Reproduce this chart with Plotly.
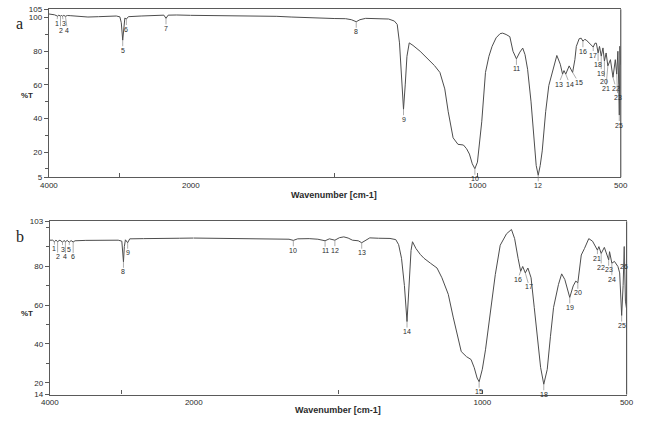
import numpy as np
import plotly.graph_objects as go

W, H = 656, 426

# ---------------- data: spectrum a ----------------
A_WN = [4000, 3960, 3920, 3877, 3860, 3836, 3822, 3808, 3790, 3767, 3740, 3700, 3600, 3450, 3300, 3150,
        3050, 3000, 2980, 2960, 2945, 2930, 2908, 2880, 2700, 2500, 2380, 2350, 2320, 2200,
        2000, 1900, 1800, 1700, 1650, 1600, 1550, 1500, 1460, 1440, 1423, 1410, 1390, 1350, 1310,
        1290, 1280, 1272, 1265, 1258, 1252, 1246, 1238, 1225, 1200, 1175, 1150, 1131, 1114, 1102,
        1085, 1068, 1049, 1038, 1028, 1018, 1009, 1000, 994, 985, 972, 960, 949, 935, 921, 912,
        900, 887, 876, 864, 852, 842, 834, 825, 813, 802, 795, 788, 781, 774, 762, 751, 734, 723,
        711, 703, 698, 692, 680, 668, 660, 655, 645, 638, 632, 626, 621, 610, 601, 596, 590, 585,
        579, 574, 568, 562, 557, 551, 545, 536, 527, 519, 514, 510, 507, 505, 503, 500]
A_T = [102.2, 102.0, 101.7, 100.9, 101.5, 100.9, 101.5, 100.8, 101.4, 100.8, 101.3, 101.2, 100.8, 100.4, 100.6, 101.0,
       101.0, 100.5, 97.0, 86.6, 96.0, 99.8, 99.2, 100.6, 101.0, 101.4, 101.5, 99.6, 101.5, 101.6,
       101.4, 101.2, 101.2, 100.8, 100.4, 100.0, 99.6, 99.5, 99.4, 98.8, 97.6, 98.8, 99.6, 99.5, 99.2,
       98.0, 96.0, 85.0, 66.0, 45.5, 60.0, 77.0, 85.0, 83.5, 80.0, 76.0, 71.5, 67.4, 57.6, 44.0,
       28.5, 24.6, 24.2, 22.0, 18.8, 13.0, 10.1, 14.0, 22.7, 38.0, 67.4, 77.0, 82.9, 88.0, 90.5, 90.8,
       90.0, 88.7, 80.0, 75.5, 79.5, 81.9, 78.0, 69.3, 49.9, 24.8, 12.0, 6.2, 12.0, 20.7, 44.0, 59.6, 71.3, 77.5,
       72.3, 66.4, 68.5, 66.4, 71.3, 67.4, 75.0, 82.9, 87.5, 87.8, 86.0, 87.0, 86.8, 85.0, 83.9, 82.5, 84.8, 84.8,
       79.0, 82.9, 77.1, 82.0, 74.2, 79.0, 71.3, 75.0, 64.5, 75.0, 66.4, 80.0, 60.0, 42.0, 83.0, 72.0]
A_LABELS = ["1", "2", "3", "4", "5", "6", "7", "8", "9", "10", "11", "12", "13", "14", "15",
            "16", "17", "18", "19", "20", "21", "22", "23", "25"]
A_LABEL_WN = [3877, 3836, 3808, 3767, 2960, 2908, 2350, 1423, 1258, 1009, 864, 788, 703, 692, 668,
              632, 596, 579, 568, 557, 545, 527, 514, 505]

# ---------------- data: spectrum b ----------------
B_WN = [4000, 3960, 3937, 3915, 3892, 3860, 3824, 3800, 3784, 3760, 3730, 3705, 3676, 3650, 3500, 3300,
        3050, 3000, 2985, 2977, 2965, 2950, 2919, 2890, 2700, 2500, 2400, 2300, 2200,
        2000, 1900, 1800, 1700, 1670, 1655, 1640, 1600, 1570, 1545, 1530, 1511, 1495, 1480, 1465,
        1450, 1430, 1418, 1405, 1390, 1360, 1320, 1300, 1290, 1280, 1270, 1261, 1253, 1247, 1242,
        1230, 1215, 1202, 1180, 1157, 1140, 1118, 1101, 1084, 1073, 1055, 1039, 1028, 1018, 1011,
        1000, 989, 972, 955, 938, 916, 899, 888, 876, 867, 860, 851, 842, 831, 820, 809, 798, 787,
        775, 764, 753, 736, 725, 714, 697, 685, 676, 669, 665, 657, 646, 631, 618, 601, 596, 588,
        577, 567, 562, 559, 551, 542, 530, 524, 517, 512, 508, 504, 500]
B_T = [93.3, 93.3, 92.5, 93.3, 92.6, 93.3, 92.3, 93.2, 92.4, 93.2, 92.3, 93.1, 92.4, 93.0, 93.2, 93.3,
       93.3, 92.8, 88.0, 82.2, 90.0, 93.5, 92.0, 94.0, 94.1, 94.3, 94.3, 94.4, 94.3,
       94.4, 94.3, 94.2, 94.0, 93.8, 93.2, 94.0, 94.1, 93.8, 93.0, 94.0, 93.3, 94.6, 95.0, 94.4,
       93.3, 93.0, 92.0, 93.0, 94.5, 94.3, 94.2, 93.6, 91.0, 84.0, 70.0, 51.5, 72.0, 88.0, 92.5,
       89.0, 86.0, 84.0, 81.5, 79.0, 74.0, 65.5, 53.8, 42.0, 36.1, 33.5, 32.0, 27.8, 22.5, 20.6,
       27.0, 37.0, 57.2, 75.6, 90.7, 96.6, 98.8, 94.1, 84.0, 77.3, 79.8, 76.5, 79.0, 74.0, 58.8, 42.0, 28.0, 19.3,
       26.9, 43.7, 58.8, 70.6, 76.0, 73.1, 63.9, 69.8, 72.3, 71.4, 76.0, 85.7, 89.0, 94.1, 92.8, 88.2, 90.0, 86.5,
       89.6, 84.9, 83.2, 87.4, 81.5, 82.4, 79.8, 76.5, 54.6, 70.0, 90.0, 62.0, 58.0]
B_LABELS = ["1", "2", "3", "4", "5", "6", "8", "9", "10", "11", "12", "13", "14", "15", "16", "17",
            "18", "19", "20", "21", "22", "23", "24", "25", "26"]
B_LABEL_WN = [3937, 3892, 3824, 3784, 3730, 3676, 2977, 2919, 1655, 1545, 1511, 1418, 1261, 1011, 867, 851,
              787, 697, 669, 601, 588, 562, 551, 517, 508]

# tick labels
A_YTICKS = [5, 20, 40, 60, 80, 100, 105]
B_YTICKS = [14, 20, 40, 60, 80, 103]
HI_XTICKS = [4000, 3000, 2000]
HI_XTEXT = ["4000", "", "2000"]
LO_XTICKS = [1500, 1000, 500]
LO_XTEXT = ["", "1000", "500"]

# ---------------- styling / placement (pixels) ----------------
def px(x):
    return x / W

def py(y):
    return 1 - y / H

LINE = "#4d4d4d"
FRAME = "#5a5a5a"
TXT = "#2a2a2a"
FONT = "Liberation Sans"

# label offsets (ax, ay) in pixels, for crowded peak labels
A_OFFS = {"1": (-1, 7), "2": (0, 14), "3": (1, 7), "4": (2, 14),
          "13": (-4, 10), "14": (4, 10), "15": (6, 10),
          "17": (0, 8), "18": (0, 12), "19": (0, 17), "20": (0, 20), "21": (-2, 23),
          "22": (3, 11), "23": (1, 23), "25": (0, 10)}
B_OFFS = {"1": (0, 7), "2": (0, 15), "3": (0, 7), "4": (0, 15), "5": (0, 7), "6": (0, 15),
          "16": (-3, 8), "17": (4, 14),
          "21": (0, 8), "22": (0, 14), "23": (0, 10), "24": (0, 16), "26": (0, 20)}

fig = go.Figure()

def split(wn, t):
    wn = np.asarray(wn, float)
    t = np.asarray(t, float)
    hi = wn >= 2000
    lo = wn <= 2000
    return (wn[hi], t[hi]), (wn[lo], t[lo])

for (wn, t, xa, xb, ya) in [(A_WN, A_T, "x", "x2", "y"), (B_WN, B_T, "x3", "x4", "y2")]:
    (wh, th), (wl, tl) = split(wn, t)
    fig.add_trace(go.Scatter(x=wh, y=th, xaxis=xa, yaxis=ya, mode="lines",
                             line=dict(color=LINE, width=1), hoverinfo="skip", showlegend=False))
    fig.add_trace(go.Scatter(x=wl, y=tl, xaxis=xb, yaxis=ya, mode="lines",
                             line=dict(color=LINE, width=1), hoverinfo="skip", showlegend=False))

tickfont = dict(family=FONT, size=8, color=TXT)

def xax(domain, rng, tv, tt, anchor):
    return dict(domain=domain, range=rng, anchor=anchor, tickvals=tv, ticktext=tt,
                ticks="inside", ticklen=4, tickcolor=FRAME, tickfont=tickfont,
                showline=True, linecolor=FRAME, linewidth=1.2, mirror=True,
                showgrid=False, zeroline=False, fixedrange=True)

def yax(domain, rng, tv, anchor):
    return dict(domain=domain, range=rng, anchor=anchor, tickvals=tv, ticktext=[str(v) for v in tv],
                ticks="outside", ticklen=4, tickcolor=FRAME, tickfont=tickfont,
                minor=dict(dtick=10, tick0=0, ticks="outside", ticklen=3, tickcolor=FRAME, showgrid=False),
                showline=True, linecolor=FRAME, linewidth=1.2,
                showgrid=False, zeroline=False, fixedrange=True)

# panel a
aL, aM, aR, aT, aB = 41, 187, 629, 5.4, 177
# panel b
bL, bM, bR, bT, bB = 42, 190, 635, 222, 399

fig.update_layout(
    width=W, height=H, margin=dict(l=0, r=0, t=0, b=0),
    paper_bgcolor="white", plot_bgcolor="white",
    xaxis=xax([px(aL), px(aM)], [4000, 2000], HI_XTICKS, HI_XTEXT, "y"),
    xaxis2=xax([px(aM), px(aR)], [2000, 500], LO_XTICKS, LO_XTEXT, "y"),
    xaxis3=xax([px(bL), px(bM)], [4000, 2000], HI_XTICKS, HI_XTEXT, "y2"),
    xaxis4=xax([px(bM), px(bR)], [2000, 500], LO_XTICKS, LO_XTEXT, "y2"),
    yaxis=yax([py(aB), py(aT)], [5, 105], A_YTICKS, "x"),
    yaxis2=yax([py(bB), py(bT)], [14, 103], B_YTICKS, "x3"),
    showlegend=False,
)

# right frame edges
for xr, yr in [("x2 domain", "y domain"), ("x4 domain", "y2 domain")]:
    fig.add_shape(type="line", xref=xr, yref=yr, x0=1, x1=1, y0=0, y1=1,
                  line=dict(color=FRAME, width=1.2))

# peak labels
def add_labels(labels, lwn, wn, t, xa, xb, ya, offs):
    wn = np.asarray(wn, float)
    t = np.asarray(t, float)
    for lab, w in zip(labels, lwn):
        yv = float(np.interp(w, wn[::-1], t[::-1]))
        ax, ay = offs.get(lab, (0, 10))
        fig.add_annotation(x=w, y=yv, xref=xa if w > 2000 else xb, yref=ya, text=lab,
                           showarrow=True, arrowhead=0, arrowwidth=0.6, arrowcolor="#777",
                           ax=ax, ay=ay, standoff=0, borderpad=0,
                           font=dict(family=FONT, size=7, color=TXT))

add_labels(A_LABELS, A_LABEL_WN, A_WN, A_T, "x", "x2", "y", A_OFFS)
add_labels(B_LABELS, B_LABEL_WN, B_WN, B_T, "x3", "x4", "y2", B_OFFS)

# texts
for txt, x, y in [("a", 5, 20), ("b", 5, 238)]:
    fig.add_annotation(x=px(x), y=py(y), xref="paper", yref="paper", text=txt, showarrow=False,
                       xanchor="left", yanchor="middle",
                       font=dict(family="Liberation Serif", size=16, color="#222"))

for txt, x, y in [("<b>%T</b>", 19, 93), ("<b>%T</b>", 19, 316)]:
    fig.add_annotation(x=px(x), y=py(y), xref="paper", yref="paper", text=txt, showarrow=False,
                       xanchor="center", yanchor="middle", font=dict(family=FONT, size=8, color=TXT))

for txt, x, y in [("<b>Wavenumber [cm-1]</b>", 334, 195), ("<b>Wavenumber [cm-1]</b>", 338, 415)]:
    fig.add_annotation(x=px(x), y=py(y), xref="paper", yref="paper", text=txt, showarrow=False,
                       xanchor="center", yanchor="middle", font=dict(family=FONT, size=9, color=TXT))

fig.write_html("out.html")
